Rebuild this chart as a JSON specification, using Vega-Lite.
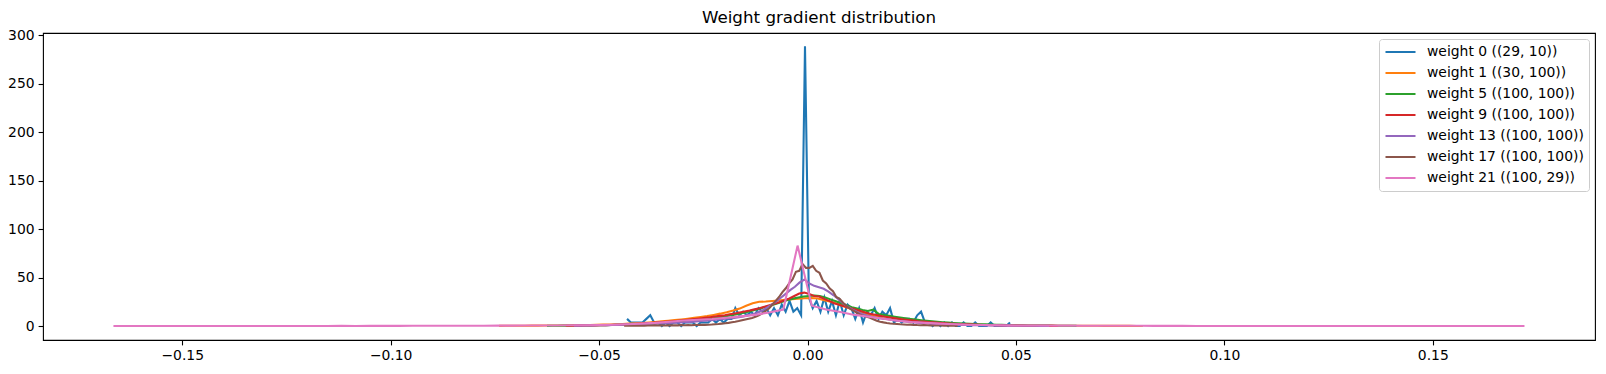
{
"$schema": "https://vega.github.io/schema/vega-lite/v6.json",
"width": 1552, "height": 307,
"autosize": {"type": "none"},
"padding": {"left": 43, "top": 33, "right": 11, "bottom": 34},
"background": "white",
"title": {"text": "Weight gradient distribution", "fontSize": 16.7, "font": "DejaVu Sans", "fontWeight": "normal", "color": "black", "offset": 2, "anchor": "middle"},
"config": {
  "font": "DejaVu Sans",
  "view": {"stroke": "black", "strokeWidth": 1.1},
  "axis": {"grid": false, "domain": false, "tickColor": "black", "tickSize": 4.9, "tickWidth": 1.1, "labelFont": "DejaVu Sans", "labelFontSize": 13.9, "labelColor": "black", "labelPadding": 4, "title": null, "labelFlush": false, "labelOverlap": false},
  "legend": {"title": null, "orient": "top-right", "offset": 6, "symbolType": "stroke", "symbolSize": 900, "symbolStrokeWidth": 2.08, "labelFont": "DejaVu Sans", "labelFontSize": 13.9, "labelColor": "black", "fillColor": "rgba(255,255,255,0.8)", "strokeColor": "#cccccc", "padding": 5, "cornerRadius": 3, "clipHeight": 16, "rowPadding": 5, "labelOffset": 10, "labelLimit": 400}
},
"data": {"values": [
{"k":"w0","x":-0.0433,"y":7.4},{"k":"w0","x":-0.04237,"y":3.7},{"k":"w0","x":-0.04144,"y":3.7},{"k":"w0","x":-0.04052,"y":3.7},{"k":"w0","x":-0.03959,"y":3.7},{"k":"w0","x":-0.03866,"y":7.4},{"k":"w0","x":-0.03773,"y":11.1},{"k":"w0","x":-0.0368,"y":3.7},{"k":"w0","x":-0.03588,"y":3.7},{"k":"w0","x":-0.03495,"y":0},
{"k":"w0","x":-0.03402,"y":3.7},{"k":"w0","x":-0.03309,"y":0},{"k":"w0","x":-0.03216,"y":3.7},{"k":"w0","x":-0.03124,"y":3.7},{"k":"w0","x":-0.03031,"y":0},{"k":"w0","x":-0.02938,"y":3.7},{"k":"w0","x":-0.02845,"y":3.7},{"k":"w0","x":-0.02752,"y":3.7},{"k":"w0","x":-0.0266,"y":0},{"k":"w0","x":-0.02567,"y":3.7},
{"k":"w0","x":-0.02474,"y":3.7},{"k":"w0","x":-0.02381,"y":3.7},{"k":"w0","x":-0.02288,"y":7.4},{"k":"w0","x":-0.02196,"y":3.7},{"k":"w0","x":-0.02103,"y":7.4},{"k":"w0","x":-0.0201,"y":3.7},{"k":"w0","x":-0.01917,"y":7.4},{"k":"w0","x":-0.01824,"y":7.4},{"k":"w0","x":-0.01732,"y":18.5},{"k":"w0","x":-0.01639,"y":11.1},
{"k":"w0","x":-0.01546,"y":14.8},{"k":"w0","x":-0.01453,"y":11.1},{"k":"w0","x":-0.0136,"y":14.8},{"k":"w0","x":-0.01268,"y":11.1},{"k":"w0","x":-0.01175,"y":18.5},{"k":"w0","x":-0.01082,"y":14.8},{"k":"w0","x":-0.00989,"y":18.5},{"k":"w0","x":-0.00896,"y":11.1},{"k":"w0","x":-0.00804,"y":18.5},{"k":"w0","x":-0.00711,"y":11.1},
{"k":"w0","x":-0.00618,"y":22.2},{"k":"w0","x":-0.00525,"y":14.8},{"k":"w0","x":-0.00432,"y":25.9},{"k":"w0","x":-0.0034,"y":14.8},{"k":"w0","x":-0.00247,"y":18.5},{"k":"w0","x":-0.00154,"y":11.1},{"k":"w0","x":-0.00061,"y":288.6},{"k":"w0","x":0.00032,"y":29.6},{"k":"w0","x":0.00124,"y":18.5},{"k":"w0","x":0.00217,"y":25.9},
{"k":"w0","x":0.0031,"y":14.8},{"k":"w0","x":0.00403,"y":29.6},{"k":"w0","x":0.00496,"y":14.8},{"k":"w0","x":0.00588,"y":25.9},{"k":"w0","x":0.00681,"y":11.1},{"k":"w0","x":0.00774,"y":25.9},{"k":"w0","x":0.00867,"y":11.1},{"k":"w0","x":0.0096,"y":22.2},{"k":"w0","x":0.01052,"y":18.5},{"k":"w0","x":0.01145,"y":7.4},
{"k":"w0","x":0.01238,"y":18.5},{"k":"w0","x":0.01331,"y":3.7},{"k":"w0","x":0.01424,"y":14.8},{"k":"w0","x":0.01516,"y":11.1},{"k":"w0","x":0.01609,"y":18.5},{"k":"w0","x":0.01702,"y":7.4},{"k":"w0","x":0.01795,"y":14.8},{"k":"w0","x":0.01888,"y":11.1},{"k":"w0","x":0.0198,"y":18.5},{"k":"w0","x":0.02073,"y":3.7},
{"k":"w0","x":0.02166,"y":7.4},{"k":"w0","x":0.02259,"y":3.7},{"k":"w0","x":0.02352,"y":7.4},{"k":"w0","x":0.02444,"y":7.4},{"k":"w0","x":0.02537,"y":3.7},{"k":"w0","x":0.0263,"y":11.1},{"k":"w0","x":0.02723,"y":14.8},{"k":"w0","x":0.02816,"y":3.7},{"k":"w0","x":0.02908,"y":3.7},{"k":"w0","x":0.03001,"y":0},
{"k":"w0","x":0.03094,"y":3.7},{"k":"w0","x":0.03187,"y":0},{"k":"w0","x":0.0328,"y":3.7},{"k":"w0","x":0.03372,"y":0},{"k":"w0","x":0.03465,"y":3.7},{"k":"w0","x":0.03558,"y":0},{"k":"w0","x":0.03651,"y":0},{"k":"w0","x":0.03744,"y":3.7},{"k":"w0","x":0.03836,"y":0},{"k":"w0","x":0.03929,"y":0},
{"k":"w0","x":0.04022,"y":3.7},{"k":"w0","x":0.04115,"y":0},{"k":"w0","x":0.04208,"y":0},{"k":"w0","x":0.043,"y":0},{"k":"w0","x":0.04393,"y":3.7},{"k":"w0","x":0.04486,"y":0},{"k":"w0","x":0.04579,"y":0},{"k":"w0","x":0.04672,"y":0},{"k":"w0","x":0.04764,"y":0},{"k":"w0","x":0.04857,"y":3.7},

{"k":"w1","x":-0.074,"y":0.2},{"k":"w1","x":-0.07244,"y":0.25},{"k":"w1","x":-0.07088,"y":0.3},{"k":"w1","x":-0.06932,"y":0.3},{"k":"w1","x":-0.06776,"y":0.35},{"k":"w1","x":-0.0662,"y":0.4},{"k":"w1","x":-0.06464,"y":0.45},{"k":"w1","x":-0.06308,"y":0.5},{"k":"w1","x":-0.06152,"y":0.55},{"k":"w1","x":-0.05996,"y":0.6},
{"k":"w1","x":-0.0584,"y":0.7},{"k":"w1","x":-0.05684,"y":0.8},{"k":"w1","x":-0.05528,"y":0.85},{"k":"w1","x":-0.05372,"y":1.0},{"k":"w1","x":-0.05216,"y":1.1},{"k":"w1","x":-0.0506,"y":1.25},{"k":"w1","x":-0.04904,"y":1.45},{"k":"w1","x":-0.04748,"y":1.65},{"k":"w1","x":-0.04592,"y":1.9},{"k":"w1","x":-0.04436,"y":2.2},
{"k":"w1","x":-0.0428,"y":2.5},{"k":"w1","x":-0.04124,"y":2.85},{"k":"w1","x":-0.03968,"y":3.2},{"k":"w1","x":-0.03812,"y":3.7},{"k":"w1","x":-0.03656,"y":4.2},{"k":"w1","x":-0.035,"y":4.8},{"k":"w1","x":-0.03344,"y":5.4},{"k":"w1","x":-0.03188,"y":6.1},{"k":"w1","x":-0.03032,"y":6.8},{"k":"w1","x":-0.02876,"y":7.6},
{"k":"w1","x":-0.0272,"y":8.4},{"k":"w1","x":-0.02564,"y":9.3},{"k":"w1","x":-0.02408,"y":10.3},{"k":"w1","x":-0.02252,"y":11.5},{"k":"w1","x":-0.02096,"y":12.8},{"k":"w1","x":-0.0194,"y":14.3},{"k":"w1","x":-0.01784,"y":16},{"k":"w1","x":-0.01628,"y":18},{"k":"w1","x":-0.01472,"y":21},{"k":"w1","x":-0.01316,"y":23.5},
{"k":"w1","x":-0.0116,"y":25},{"k":"w1","x":-0.01004,"y":25.3},{"k":"w1","x":-0.00848,"y":25.8},{"k":"w1","x":-0.00692,"y":26.4},{"k":"w1","x":-0.00536,"y":27},{"k":"w1","x":-0.0038,"y":27.6},{"k":"w1","x":-0.00224,"y":28.2},{"k":"w1","x":-0.00068,"y":28.7},{"k":"w1","x":0.00088,"y":29},{"k":"w1","x":0.00244,"y":28.5},
{"k":"w1","x":0.004,"y":26.5},{"k":"w1","x":0.00556,"y":25},{"k":"w1","x":0.00712,"y":23},{"k":"w1","x":0.00868,"y":20.5},{"k":"w1","x":0.01024,"y":18},{"k":"w1","x":0.0118,"y":16},{"k":"w1","x":0.01336,"y":13.5},{"k":"w1","x":0.01492,"y":11.5},{"k":"w1","x":0.01648,"y":9.5},{"k":"w1","x":0.01804,"y":8},
{"k":"w1","x":0.0196,"y":7},{"k":"w1","x":0.02116,"y":6.2},{"k":"w1","x":0.02272,"y":5.5},{"k":"w1","x":0.02428,"y":4.9},{"k":"w1","x":0.02584,"y":4.3},{"k":"w1","x":0.0274,"y":3.8},{"k":"w1","x":0.02896,"y":3.3},{"k":"w1","x":0.03052,"y":2.9},{"k":"w1","x":0.03208,"y":2.6},{"k":"w1","x":0.03364,"y":2.3},
{"k":"w1","x":0.0352,"y":2.0},{"k":"w1","x":0.03676,"y":1.8},{"k":"w1","x":0.03832,"y":1.6},{"k":"w1","x":0.03988,"y":1.4},{"k":"w1","x":0.04144,"y":1.25},{"k":"w1","x":0.043,"y":1.1},{"k":"w1","x":0.04456,"y":1.0},{"k":"w1","x":0.04612,"y":0.9},{"k":"w1","x":0.04768,"y":0.8},{"k":"w1","x":0.04924,"y":0.7},
{"k":"w1","x":0.0508,"y":0.65},{"k":"w1","x":0.05236,"y":0.6},{"k":"w1","x":0.05392,"y":0.55},{"k":"w1","x":0.05548,"y":0.5},{"k":"w1","x":0.05704,"y":0.45},{"k":"w1","x":0.0586,"y":0.4},{"k":"w1","x":0.06016,"y":0.37},{"k":"w1","x":0.06172,"y":0.34},{"k":"w1","x":0.06328,"y":0.31},{"k":"w1","x":0.06484,"y":0.28},
{"k":"w1","x":0.0664,"y":0.26},{"k":"w1","x":0.06796,"y":0.24},{"k":"w1","x":0.06952,"y":0.22},{"k":"w1","x":0.07108,"y":0.2},{"k":"w1","x":0.07264,"y":0.18},{"k":"w1","x":0.0742,"y":0.17},{"k":"w1","x":0.07576,"y":0.15},{"k":"w1","x":0.07732,"y":0.14},{"k":"w1","x":0.07888,"y":0.13},{"k":"w1","x":0.08044,"y":0.12},

{"k":"w5","x":-0.0625,"y":0.2},{"k":"w5","x":-0.06122,"y":0.3},{"k":"w5","x":-0.05993,"y":0.3},{"k":"w5","x":-0.05865,"y":0.4},{"k":"w5","x":-0.05737,"y":0.4},{"k":"w5","x":-0.05609,"y":0.5},{"k":"w5","x":-0.0548,"y":0.5},{"k":"w5","x":-0.05352,"y":0.6},{"k":"w5","x":-0.05224,"y":0.7},{"k":"w5","x":-0.05095,"y":0.8},
{"k":"w5","x":-0.04967,"y":0.8},{"k":"w5","x":-0.04839,"y":0.9},{"k":"w5","x":-0.0471,"y":1.0},{"k":"w5","x":-0.04582,"y":1.2},{"k":"w5","x":-0.04454,"y":1.3},{"k":"w5","x":-0.04326,"y":1.4},{"k":"w5","x":-0.04197,"y":1.6},{"k":"w5","x":-0.04069,"y":1.8},{"k":"w5","x":-0.03941,"y":2.0},{"k":"w5","x":-0.03812,"y":2.3},
{"k":"w5","x":-0.03684,"y":2.6},{"k":"w5","x":-0.03556,"y":2.9},{"k":"w5","x":-0.03427,"y":3.3},{"k":"w5","x":-0.03299,"y":3.7},{"k":"w5","x":-0.03171,"y":4.1},{"k":"w5","x":-0.03043,"y":4.5},{"k":"w5","x":-0.02914,"y":5.0},{"k":"w5","x":-0.02786,"y":5.6},{"k":"w5","x":-0.02658,"y":6.1},{"k":"w5","x":-0.02529,"y":6.6},
{"k":"w5","x":-0.02401,"y":7.3},{"k":"w5","x":-0.02273,"y":8.0},{"k":"w5","x":-0.02144,"y":8.8},{"k":"w5","x":-0.02016,"y":9.6},{"k":"w5","x":-0.01888,"y":10.6},{"k":"w5","x":-0.0176,"y":11.6},{"k":"w5","x":-0.01631,"y":12.7},{"k":"w5","x":-0.01503,"y":14},{"k":"w5","x":-0.01375,"y":15.4},{"k":"w5","x":-0.01246,"y":16.8},
{"k":"w5","x":-0.01118,"y":18.3},{"k":"w5","x":-0.0099,"y":20},{"k":"w5","x":-0.00861,"y":21.5},{"k":"w5","x":-0.00733,"y":23.2},{"k":"w5","x":-0.00605,"y":25},{"k":"w5","x":-0.00477,"y":26.8},{"k":"w5","x":-0.00348,"y":28.3},{"k":"w5","x":-0.0022,"y":29.5},{"k":"w5","x":-0.00092,"y":30.5},{"k":"w5","x":0.00037,"y":31},
{"k":"w5","x":0.00165,"y":31.5},{"k":"w5","x":0.00293,"y":31},{"k":"w5","x":0.00422,"y":29.5},{"k":"w5","x":0.0055,"y":27.5},{"k":"w5","x":0.00678,"y":25.5},{"k":"w5","x":0.00807,"y":23.5},{"k":"w5","x":0.00935,"y":21.5},{"k":"w5","x":0.01063,"y":19.5},{"k":"w5","x":0.01191,"y":18},{"k":"w5","x":0.0132,"y":16.5},
{"k":"w5","x":0.01448,"y":15.5},{"k":"w5","x":0.01576,"y":17},{"k":"w5","x":0.01705,"y":12.5},{"k":"w5","x":0.01833,"y":11.5},{"k":"w5","x":0.01961,"y":10.5},{"k":"w5","x":0.0209,"y":9.6},{"k":"w5","x":0.02218,"y":8.8},{"k":"w5","x":0.02346,"y":8},{"k":"w5","x":0.02474,"y":7.3},{"k":"w5","x":0.02603,"y":6.6},
{"k":"w5","x":0.02731,"y":6},{"k":"w5","x":0.02859,"y":5.4},{"k":"w5","x":0.02988,"y":4.9},{"k":"w5","x":0.03116,"y":4.4},{"k":"w5","x":0.03244,"y":4},{"k":"w5","x":0.03373,"y":3.6},{"k":"w5","x":0.03501,"y":3.2},{"k":"w5","x":0.03629,"y":2.9},{"k":"w5","x":0.03757,"y":2.6},{"k":"w5","x":0.03886,"y":2.3},
{"k":"w5","x":0.04014,"y":2.0},{"k":"w5","x":0.04142,"y":1.9},{"k":"w5","x":0.04271,"y":1.7},{"k":"w5","x":0.04399,"y":1.5},{"k":"w5","x":0.04527,"y":1.3},{"k":"w5","x":0.04655,"y":1.2},{"k":"w5","x":0.04784,"y":1.0},{"k":"w5","x":0.04912,"y":0.9},{"k":"w5","x":0.0504,"y":0.8},{"k":"w5","x":0.05169,"y":0.7},
{"k":"w5","x":0.05297,"y":0.6},{"k":"w5","x":0.05425,"y":0.55},{"k":"w5","x":0.05554,"y":0.5},{"k":"w5","x":0.05682,"y":0.45},{"k":"w5","x":0.0581,"y":0.4},{"k":"w5","x":0.05938,"y":0.35},{"k":"w5","x":0.06067,"y":0.3},{"k":"w5","x":0.06195,"y":0.3},{"k":"w5","x":0.06323,"y":0.25},{"k":"w5","x":0.06452,"y":0.2},

{"k":"w9","x":-0.058,"y":0.3},{"k":"w9","x":-0.05681,"y":0.35},{"k":"w9","x":-0.05562,"y":0.4},{"k":"w9","x":-0.05442,"y":0.45},{"k":"w9","x":-0.05323,"y":0.5},{"k":"w9","x":-0.05204,"y":0.55},{"k":"w9","x":-0.05085,"y":0.65},{"k":"w9","x":-0.04966,"y":0.75},{"k":"w9","x":-0.04846,"y":0.9},{"k":"w9","x":-0.04727,"y":1.0},
{"k":"w9","x":-0.04608,"y":1.2},{"k":"w9","x":-0.04489,"y":1.35},{"k":"w9","x":-0.0437,"y":1.6},{"k":"w9","x":-0.04251,"y":1.9},{"k":"w9","x":-0.04131,"y":2.2},{"k":"w9","x":-0.04012,"y":2.5},{"k":"w9","x":-0.03893,"y":2.8},{"k":"w9","x":-0.03774,"y":3.1},{"k":"w9","x":-0.03655,"y":3.5},{"k":"w9","x":-0.03535,"y":3.9},
{"k":"w9","x":-0.03416,"y":4.3},{"k":"w9","x":-0.03297,"y":4.7},{"k":"w9","x":-0.03178,"y":5.2},{"k":"w9","x":-0.03059,"y":5.6},{"k":"w9","x":-0.02939,"y":6.1},{"k":"w9","x":-0.0282,"y":6.6},{"k":"w9","x":-0.02701,"y":7.2},{"k":"w9","x":-0.02582,"y":7.8},{"k":"w9","x":-0.02463,"y":8.4},{"k":"w9","x":-0.02343,"y":9.1},
{"k":"w9","x":-0.02224,"y":9.8},{"k":"w9","x":-0.02105,"y":10.5},{"k":"w9","x":-0.01986,"y":11.2},{"k":"w9","x":-0.01867,"y":12.1},{"k":"w9","x":-0.01748,"y":13},{"k":"w9","x":-0.01628,"y":14},{"k":"w9","x":-0.01509,"y":15},{"k":"w9","x":-0.0139,"y":16},{"k":"w9","x":-0.01271,"y":17.2},{"k":"w9","x":-0.01152,"y":18.4},
{"k":"w9","x":-0.01032,"y":20},{"k":"w9","x":-0.00913,"y":21.5},{"k":"w9","x":-0.00794,"y":23},{"k":"w9","x":-0.00675,"y":24.5},{"k":"w9","x":-0.00556,"y":26.5},{"k":"w9","x":-0.00436,"y":28.5},{"k":"w9","x":-0.00317,"y":31},{"k":"w9","x":-0.00198,"y":33.5},{"k":"w9","x":-0.00079,"y":34.5},{"k":"w9","x":0.0004,"y":33},
{"k":"w9","x":0.0016,"y":31},{"k":"w9","x":0.00279,"y":30.5},{"k":"w9","x":0.00398,"y":28},{"k":"w9","x":0.00517,"y":26},{"k":"w9","x":0.00636,"y":23.5},{"k":"w9","x":0.00755,"y":22},{"k":"w9","x":0.00875,"y":20.5},{"k":"w9","x":0.00994,"y":19},{"k":"w9","x":0.01113,"y":17.5},{"k":"w9","x":0.01232,"y":16},
{"k":"w9","x":0.01351,"y":14.5},{"k":"w9","x":0.01471,"y":13},{"k":"w9","x":0.0159,"y":12},{"k":"w9","x":0.01709,"y":10.8},{"k":"w9","x":0.01828,"y":9.8},{"k":"w9","x":0.01947,"y":9},{"k":"w9","x":0.02067,"y":8.2},{"k":"w9","x":0.02186,"y":7.5},{"k":"w9","x":0.02305,"y":6.8},{"k":"w9","x":0.02424,"y":6.2},
{"k":"w9","x":0.02543,"y":5.6},{"k":"w9","x":0.02662,"y":5},{"k":"w9","x":0.02782,"y":4.6},{"k":"w9","x":0.02901,"y":4.1},{"k":"w9","x":0.0302,"y":3.8},{"k":"w9","x":0.03139,"y":3.4},{"k":"w9","x":0.03258,"y":3.0},{"k":"w9","x":0.03378,"y":2.7},{"k":"w9","x":0.03497,"y":2.4},{"k":"w9","x":0.03616,"y":2.1},
{"k":"w9","x":0.03735,"y":1.9},{"k":"w9","x":0.03854,"y":1.7},{"k":"w9","x":0.03974,"y":1.5},{"k":"w9","x":0.04093,"y":1.3},{"k":"w9","x":0.04212,"y":1.1},{"k":"w9","x":0.04331,"y":1.0},{"k":"w9","x":0.0445,"y":0.9},{"k":"w9","x":0.04569,"y":0.8},{"k":"w9","x":0.04689,"y":0.7},{"k":"w9","x":0.04808,"y":0.6},
{"k":"w9","x":0.04927,"y":0.5},{"k":"w9","x":0.05046,"y":0.5},{"k":"w9","x":0.05165,"y":0.4},{"k":"w9","x":0.05285,"y":0.3},{"k":"w9","x":0.05404,"y":0.3},{"k":"w9","x":0.05523,"y":0.3},{"k":"w9","x":0.05642,"y":0.2},{"k":"w9","x":0.05761,"y":0.2},{"k":"w9","x":0.05881,"y":0.2},{"k":"w9","x":0.06,"y":0.1},

{"k":"w13","x":-0.056,"y":0.4},{"k":"w13","x":-0.05485,"y":0.45},{"k":"w13","x":-0.0537,"y":0.5},{"k":"w13","x":-0.05255,"y":0.55},{"k":"w13","x":-0.0514,"y":0.65},{"k":"w13","x":-0.05024,"y":0.75},{"k":"w13","x":-0.04909,"y":0.85},{"k":"w13","x":-0.04794,"y":0.95},{"k":"w13","x":-0.04679,"y":1.05},{"k":"w13","x":-0.04564,"y":1.2},
{"k":"w13","x":-0.04449,"y":1.3},{"k":"w13","x":-0.04333,"y":1.45},{"k":"w13","x":-0.04218,"y":1.6},{"k":"w13","x":-0.04103,"y":1.75},{"k":"w13","x":-0.03988,"y":1.9},{"k":"w13","x":-0.03873,"y":2.1},{"k":"w13","x":-0.03758,"y":2.3},{"k":"w13","x":-0.03642,"y":2.5},{"k":"w13","x":-0.03527,"y":2.7},{"k":"w13","x":-0.03412,"y":2.9},
{"k":"w13","x":-0.03297,"y":3.1},{"k":"w13","x":-0.03182,"y":3.4},{"k":"w13","x":-0.03067,"y":3.7},{"k":"w13","x":-0.02952,"y":4.0},{"k":"w13","x":-0.02836,"y":4.3},{"k":"w13","x":-0.02721,"y":4.6},{"k":"w13","x":-0.02606,"y":5.0},{"k":"w13","x":-0.02491,"y":5.4},{"k":"w13","x":-0.02376,"y":5.8},{"k":"w13","x":-0.02261,"y":6.2},
{"k":"w13","x":-0.02146,"y":6.7},{"k":"w13","x":-0.0203,"y":7.2},{"k":"w13","x":-0.01915,"y":7.7},{"k":"w13","x":-0.018,"y":8.2},{"k":"w13","x":-0.01685,"y":8.9},{"k":"w13","x":-0.0157,"y":9.7},{"k":"w13","x":-0.01455,"y":10.6},{"k":"w13","x":-0.01339,"y":11.8},{"k":"w13","x":-0.01224,"y":13.5},{"k":"w13","x":-0.01109,"y":15.5},
{"k":"w13","x":-0.00994,"y":18.5},{"k":"w13","x":-0.00879,"y":21.5},{"k":"w13","x":-0.00764,"y":25},{"k":"w13","x":-0.00649,"y":29},{"k":"w13","x":-0.00533,"y":33},{"k":"w13","x":-0.00418,"y":37},{"k":"w13","x":-0.00303,"y":40.5},{"k":"w13","x":-0.00188,"y":45},{"k":"w13","x":-0.00073,"y":48},{"k":"w13","x":0.00042,"y":44},
{"k":"w13","x":0.00158,"y":41.5},{"k":"w13","x":0.00273,"y":40},{"k":"w13","x":0.00388,"y":38.5},{"k":"w13","x":0.00503,"y":35.5},{"k":"w13","x":0.00618,"y":32},{"k":"w13","x":0.00733,"y":28},{"k":"w13","x":0.00848,"y":23.5},{"k":"w13","x":0.00964,"y":20},{"k":"w13","x":0.01079,"y":17},{"k":"w13","x":0.01194,"y":14.5},
{"k":"w13","x":0.01309,"y":12.5},{"k":"w13","x":0.01424,"y":11},{"k":"w13","x":0.01539,"y":9.5},{"k":"w13","x":0.01654,"y":8.6},{"k":"w13","x":0.0177,"y":7.8},{"k":"w13","x":0.01885,"y":7.2},{"k":"w13","x":0.02,"y":6.5},{"k":"w13","x":0.02115,"y":5.8},{"k":"w13","x":0.0223,"y":5.2},{"k":"w13","x":0.02345,"y":4.6},
{"k":"w13","x":0.02461,"y":4.1},{"k":"w13","x":0.02576,"y":3.7},{"k":"w13","x":0.02691,"y":3.3},{"k":"w13","x":0.02806,"y":3.0},{"k":"w13","x":0.02921,"y":2.7},{"k":"w13","x":0.03036,"y":2.4},{"k":"w13","x":0.03151,"y":2.1},{"k":"w13","x":0.03267,"y":1.9},{"k":"w13","x":0.03382,"y":1.7},{"k":"w13","x":0.03497,"y":1.5},
{"k":"w13","x":0.03612,"y":1.35},{"k":"w13","x":0.03727,"y":1.2},{"k":"w13","x":0.03842,"y":1.05},{"k":"w13","x":0.03958,"y":0.95},{"k":"w13","x":0.04073,"y":0.85},{"k":"w13","x":0.04188,"y":0.75},{"k":"w13","x":0.04303,"y":0.65},{"k":"w13","x":0.04418,"y":0.6},{"k":"w13","x":0.04533,"y":0.55},{"k":"w13","x":0.04648,"y":0.5},
{"k":"w13","x":0.04764,"y":0.45},{"k":"w13","x":0.04879,"y":0.4},{"k":"w13","x":0.04994,"y":0.35},{"k":"w13","x":0.05109,"y":0.3},{"k":"w13","x":0.05224,"y":0.28},{"k":"w13","x":0.05339,"y":0.25},{"k":"w13","x":0.05455,"y":0.22},{"k":"w13","x":0.0557,"y":0.2},{"k":"w13","x":0.05685,"y":0.18},{"k":"w13","x":0.058,"y":0.15},

{"k":"w17","x":-0.044,"y":0.3},{"k":"w17","x":-0.0432,"y":0.4},{"k":"w17","x":-0.0424,"y":0.3},{"k":"w17","x":-0.0416,"y":0.5},{"k":"w17","x":-0.0408,"y":0.4},{"k":"w17","x":-0.03996,"y":0.6},{"k":"w17","x":-0.03915,"y":0.4},{"k":"w17","x":-0.03834,"y":0.6},{"k":"w17","x":-0.03754,"y":0.5},{"k":"w17","x":-0.03673,"y":0.7},
{"k":"w17","x":-0.03592,"y":0.5},{"k":"w17","x":-0.03511,"y":0.8},{"k":"w17","x":-0.0343,"y":0.6},{"k":"w17","x":-0.0335,"y":0.8},{"k":"w17","x":-0.03269,"y":0.7},{"k":"w17","x":-0.03188,"y":0.9},{"k":"w17","x":-0.03107,"y":0.7},{"k":"w17","x":-0.03026,"y":1.0},{"k":"w17","x":-0.02946,"y":0.8},{"k":"w17","x":-0.02865,"y":1.1},
{"k":"w17","x":-0.02784,"y":0.9},{"k":"w17","x":-0.02703,"y":1.2},{"k":"w17","x":-0.02622,"y":1.0},{"k":"w17","x":-0.02542,"y":1.3},{"k":"w17","x":-0.02461,"y":1.2},{"k":"w17","x":-0.0238,"y":1.4},{"k":"w17","x":-0.02299,"y":1.6},{"k":"w17","x":-0.02218,"y":1.9},{"k":"w17","x":-0.02138,"y":2.1},{"k":"w17","x":-0.02057,"y":2.5},
{"k":"w17","x":-0.01976,"y":2.9},{"k":"w17","x":-0.01895,"y":3.3},{"k":"w17","x":-0.01814,"y":4.0},{"k":"w17","x":-0.01734,"y":4.5},{"k":"w17","x":-0.01653,"y":5.2},{"k":"w17","x":-0.01572,"y":6.0},{"k":"w17","x":-0.01491,"y":6.8},{"k":"w17","x":-0.0141,"y":7.5},{"k":"w17","x":-0.0133,"y":8.2},{"k":"w17","x":-0.01249,"y":9.5},
{"k":"w17","x":-0.01168,"y":11},{"k":"w17","x":-0.01087,"y":13},{"k":"w17","x":-0.01006,"y":15.5},{"k":"w17","x":-0.00926,"y":18},{"k":"w17","x":-0.00845,"y":22},{"k":"w17","x":-0.00764,"y":26},{"k":"w17","x":-0.00683,"y":30},{"k":"w17","x":-0.00602,"y":35},{"k":"w17","x":-0.00522,"y":39},{"k":"w17","x":-0.00441,"y":44},
{"k":"w17","x":-0.0036,"y":48},{"k":"w17","x":-0.00279,"y":56},{"k":"w17","x":-0.00198,"y":57},{"k":"w17","x":-0.00118,"y":64},{"k":"w17","x":-0.00037,"y":60},{"k":"w17","x":0.00044,"y":60},{"k":"w17","x":0.00125,"y":62},{"k":"w17","x":0.00206,"y":57},{"k":"w17","x":0.00286,"y":55},{"k":"w17","x":0.00367,"y":47},
{"k":"w17","x":0.00448,"y":44},{"k":"w17","x":0.00529,"y":39},{"k":"w17","x":0.0061,"y":36},{"k":"w17","x":0.0069,"y":30},{"k":"w17","x":0.00771,"y":28},{"k":"w17","x":0.00852,"y":24},{"k":"w17","x":0.00933,"y":21},{"k":"w17","x":0.01014,"y":18},{"k":"w17","x":0.01094,"y":16},{"k":"w17","x":0.01175,"y":14},
{"k":"w17","x":0.01256,"y":12},{"k":"w17","x":0.01337,"y":10.5},{"k":"w17","x":0.01418,"y":9.5},{"k":"w17","x":0.01498,"y":8.5},{"k":"w17","x":0.01579,"y":7},{"k":"w17","x":0.0166,"y":5.5},{"k":"w17","x":0.01741,"y":4.5},{"k":"w17","x":0.01822,"y":3.8},{"k":"w17","x":0.01902,"y":3.2},{"k":"w17","x":0.01983,"y":2.7},
{"k":"w17","x":0.02064,"y":2.4},{"k":"w17","x":0.02145,"y":2.1},{"k":"w17","x":0.02226,"y":1.8},{"k":"w17","x":0.02306,"y":1.6},{"k":"w17","x":0.02387,"y":1.4},{"k":"w17","x":0.02468,"y":1.5},{"k":"w17","x":0.02549,"y":1.2},{"k":"w17","x":0.0263,"y":1.0},{"k":"w17","x":0.0271,"y":0.9},{"k":"w17","x":0.02791,"y":1.1},
{"k":"w17","x":0.02872,"y":0.8},{"k":"w17","x":0.02953,"y":0.7},{"k":"w17","x":0.03034,"y":0.6},{"k":"w17","x":0.03114,"y":0.5},{"k":"w17","x":0.03195,"y":0.6},{"k":"w17","x":0.03276,"y":0.4},{"k":"w17","x":0.03357,"y":0.3},{"k":"w17","x":0.03438,"y":0.4},{"k":"w17","x":0.03518,"y":0.3},{"k":"w17","x":0.03599,"y":0.2},

{"k":"w21","x":-0.1665,"y":0.1},{"k":"w21","x":-0.16308,"y":0.03},{"k":"w21","x":-0.15966,"y":0.03},{"k":"w21","x":-0.15624,"y":0.07},{"k":"w21","x":-0.15282,"y":0.03},{"k":"w21","x":-0.1494,"y":0.07},{"k":"w21","x":-0.14599,"y":0.03},{"k":"w21","x":-0.14257,"y":0.07},{"k":"w21","x":-0.13915,"y":0.1},{"k":"w21","x":-0.13573,"y":0.07},
{"k":"w21","x":-0.13231,"y":0.1},{"k":"w21","x":-0.12889,"y":0.07},{"k":"w21","x":-0.12547,"y":0.1},{"k":"w21","x":-0.12205,"y":0.13},{"k":"w21","x":-0.11863,"y":0.1},{"k":"w21","x":-0.11522,"y":0.13},{"k":"w21","x":-0.1118,"y":0.17},{"k":"w21","x":-0.10838,"y":0.13},{"k":"w21","x":-0.10496,"y":0.2},{"k":"w21","x":-0.10154,"y":0.17},
{"k":"w21","x":-0.09812,"y":0.2},{"k":"w21","x":-0.0947,"y":0.23},{"k":"w21","x":-0.09128,"y":0.27},{"k":"w21","x":-0.08786,"y":0.23},{"k":"w21","x":-0.08444,"y":0.3},{"k":"w21","x":-0.08103,"y":0.33},{"k":"w21","x":-0.07761,"y":0.37},{"k":"w21","x":-0.07419,"y":0.4},{"k":"w21","x":-0.07077,"y":0.43},{"k":"w21","x":-0.06735,"y":0.5},
{"k":"w21","x":-0.06393,"y":0.55},{"k":"w21","x":-0.06051,"y":0.62},{"k":"w21","x":-0.05709,"y":0.75},{"k":"w21","x":-0.05367,"y":0.85},{"k":"w21","x":-0.05025,"y":1.05},{"k":"w21","x":-0.04684,"y":1.35},{"k":"w21","x":-0.04342,"y":1.8},{"k":"w21","x":-0.04,"y":2.5},{"k":"w21","x":-0.03658,"y":3.3},{"k":"w21","x":-0.03316,"y":4.5},
{"k":"w21","x":-0.02974,"y":5.8},{"k":"w21","x":-0.02632,"y":6.5},{"k":"w21","x":-0.0229,"y":7.2},{"k":"w21","x":-0.01948,"y":8.5},{"k":"w21","x":-0.01606,"y":10},{"k":"w21","x":-0.01265,"y":11.5},{"k":"w21","x":-0.00923,"y":14},{"k":"w21","x":-0.00581,"y":17},{"k":"w21","x":-0.00239,"y":83},{"k":"w21","x":0.00103,"y":21},
{"k":"w21","x":0.00445,"y":17},{"k":"w21","x":0.00787,"y":14.5},{"k":"w21","x":0.01129,"y":11.5},{"k":"w21","x":0.01471,"y":9.5},{"k":"w21","x":0.01813,"y":7.5},{"k":"w21","x":0.02155,"y":5.5},{"k":"w21","x":0.02496,"y":4.2},{"k":"w21","x":0.02838,"y":3.3},{"k":"w21","x":0.0318,"y":2.5},{"k":"w21","x":0.03522,"y":1.9},
{"k":"w21","x":0.03864,"y":1.4},{"k":"w21","x":0.04206,"y":1.05},{"k":"w21","x":0.04548,"y":0.8},{"k":"w21","x":0.0489,"y":0.65},{"k":"w21","x":0.05232,"y":0.55},{"k":"w21","x":0.05574,"y":0.5},{"k":"w21","x":0.05915,"y":0.45},{"k":"w21","x":0.06257,"y":0.4},{"k":"w21","x":0.06599,"y":0.35},{"k":"w21","x":0.06941,"y":0.33},
{"k":"w21","x":0.07283,"y":0.3},{"k":"w21","x":0.07625,"y":0.27},{"k":"w21","x":0.07967,"y":0.23},{"k":"w21","x":0.08309,"y":0.2},{"k":"w21","x":0.08651,"y":0.2},{"k":"w21","x":0.08993,"y":0.17},{"k":"w21","x":0.09334,"y":0.13},{"k":"w21","x":0.09676,"y":0.13},{"k":"w21","x":0.10018,"y":0.1},{"k":"w21","x":0.1036,"y":0.1},
{"k":"w21","x":0.10702,"y":0.13},{"k":"w21","x":0.11044,"y":0.1},{"k":"w21","x":0.11386,"y":0.07},{"k":"w21","x":0.11728,"y":0.07},{"k":"w21","x":0.1207,"y":0.1},{"k":"w21","x":0.12412,"y":0.07},{"k":"w21","x":0.12753,"y":0.07},{"k":"w21","x":0.13095,"y":0.03},{"k":"w21","x":0.13437,"y":0.07},{"k":"w21","x":0.13779,"y":0.03},
{"k":"w21","x":0.14121,"y":0.03},{"k":"w21","x":0.14463,"y":0.07},{"k":"w21","x":0.14805,"y":0.03},{"k":"w21","x":0.15147,"y":0.03},{"k":"w21","x":0.15489,"y":0.03},{"k":"w21","x":0.15831,"y":0.03},{"k":"w21","x":0.16172,"y":0.03},{"k":"w21","x":0.16514,"y":0.03},{"k":"w21","x":0.16856,"y":0.03},{"k":"w21","x":0.17198,"y":0.03}
]},
"mark": {"type": "line", "strokeWidth": 2.08, "clip": true},
"encoding": {
  "x": {"field": "x", "type": "quantitative", "scale": {"domain": [-0.1834, 0.1889], "nice": false, "zero": false}, "axis": {"values": [-0.15, -0.1, -0.05, 0, 0.05, 0.1, 0.15], "format": ".2f"}},
  "y": {"field": "y", "type": "quantitative", "scale": {"domain": [-14.4, 302.4], "nice": false, "zero": false}, "axis": {"values": [0, 50, 100, 150, 200, 250, 300]}},
  "color": {"field": "k", "type": "nominal",
    "scale": {"domain": ["w0", "w1", "w5", "w9", "w13", "w17", "w21"], "range": ["#1f77b4", "#ff7f0e", "#2ca02c", "#d62728", "#9467bd", "#8c564b", "#e377c2"]},
    "legend": {"labelExpr": "datum.label == 'w0' ? 'weight 0 ((29, 10))' : datum.label == 'w1' ? 'weight 1 ((30, 100))' : datum.label == 'w5' ? 'weight 5 ((100, 100))' : datum.label == 'w9' ? 'weight 9 ((100, 100))' : datum.label == 'w13' ? 'weight 13 ((100, 100))' : datum.label == 'w17' ? 'weight 17 ((100, 100))' : 'weight 21 ((100, 29))'"}}
}
}
